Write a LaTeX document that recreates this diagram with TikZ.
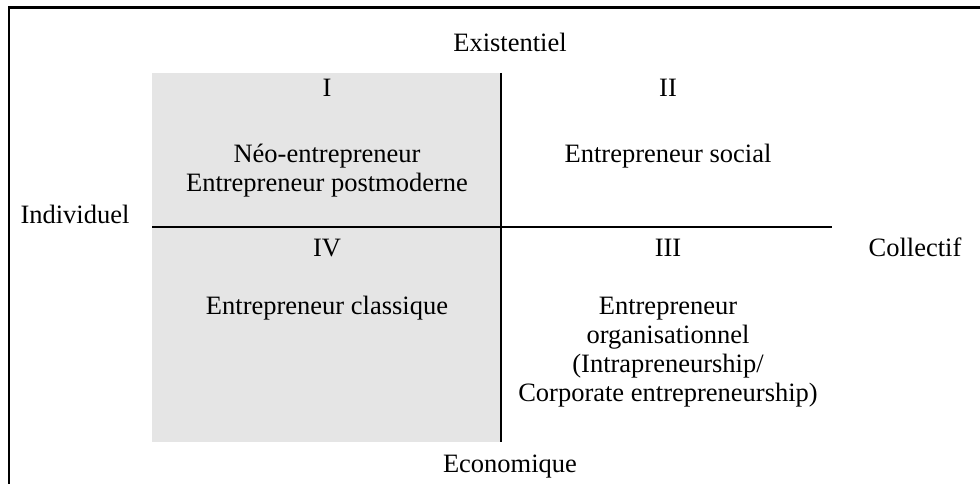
\documentclass[tikz,border=0pt]{standalone}
\usepackage{fontspec}
\setmainfont{Liberation Serif}
\tikzset{
  lbl/.style={anchor=base, inner sep=0pt, font=\fontsize{26.5}{29}\selectfont},
  axis/.style={line width=2.2pt},
}
\begin{document}
\begin{tikzpicture}[x=1pt,y=-1pt]
\useasboundingbox (0,0) rectangle (980,484);
% outer frame (top and left edges visible)
\draw[line width=2.2pt] (9,484) -- (9,7.5) -- (980,7.5);
% shaded left half
\fill[gray!20] (152,73) rectangle (501,442);
% axes
\coordinate (vt) at (501,73);
\coordinate (vb) at (501,442);
\coordinate (hl) at (152,227);
\coordinate (hr) at (832,227);
\draw[axis] (vt) -- (vb);
\draw[axis] (hl) -- (hr);
% axis labels
\node[lbl] (exist) at (510,52) {Existentiel};
\node[lbl] (econ) at (510,472) {Economique};
\node[lbl] (indiv) at (75,223) {Individuel};
\node[lbl] (coll) at (915,256) {Collectif};
% quadrant numbers
\node[lbl] (q1) at (327,97) {I};
\node[lbl] (q2) at (668,97) {II};
\node[lbl] (q4) at (327,256) {IV};
\node[lbl] (q3) at (668,256) {III};
% quadrant contents
\node[lbl] (neo) at (327,162) {Néo-entrepreneur};
\node[lbl] (post) at (327,191) {Entrepreneur postmoderne};
\node[lbl] (soc) at (668,162) {Entrepreneur social};
\node[lbl] (clas) at (327,314) {Entrepreneur classique};
\node[lbl] (org1) at (668,314) {Entrepreneur};
\node[lbl] (org2) at (668,343) {organisationnel};
\node[lbl] (org3) at (668,372) {(Intrapreneurship/};
\node[lbl] (org4) at (668,401) {Corporate entrepreneurship)};
\end{tikzpicture}
\end{document}
